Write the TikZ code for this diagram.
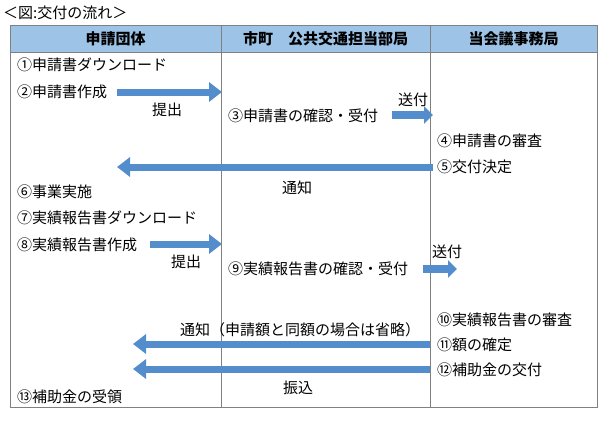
\documentclass[tikz,border=0pt]{standalone}
\usepackage{fontspec}
\setmainfont{Noto Sans CJK JP}
\usepackage{tikz}
\usetikzlibrary{arrows.meta,positioning}
\usepackage{xcolor}
\definecolor{hdblue}{RGB}{157,195,230}
\definecolor{flowblue}{RGB}{84,141,204}
\definecolor{rulegray}{RGB}{128,128,128}
\tikzstyle{item} = [anchor=west, inner sep=0pt]
\tikzstyle{note} = [inner sep=0pt]
\tikzstyle{bigarrow} = [line width=7pt, flowblue, -{Triangle[width=19pt,length=13pt]}]
\tikzstyle{smallarrow} = [line width=8pt, flowblue, -{Triangle[width=17pt,length=9pt]}]

\begin{document}
\begin{tikzpicture}[x=1pt, y=-1pt, font=\fontsize{15pt}{18pt}\selectfont]
\useasboundingbox (0,0) rectangle (600,434);
% Title
\node[item] (title) at (3,13) {＜図:交付の流れ＞};

% Table frame with header row
\draw[rulegray, fill=hdblue] (10,25) rectangle (597,52);
\draw[rulegray] (10,25) rectangle (597,407);
\draw[rulegray] (221,25) -- (221,407);
\draw[rulegray] (430,25) -- (430,407);
\node[note, font=\fontsize{15pt}{18pt}\selectfont\bfseries] (hd1) at (115.5,38.5) {申請団体};
\node[note, font=\fontsize{15pt}{18pt}\selectfont\bfseries] (hd2) at (325.5,38.5) {市町　公共交通担当部局};
\node[note, font=\fontsize{15pt}{18pt}\selectfont\bfseries] (hd3) at (513.5,38.5) {当会議事務局};

% Application steps
\node[item] (t1) at (17,65) {①申請書ダウンロード};
\node[item] (t2) at (17,92) {②申請書作成};
\node[note] (sub1) at (167,110) {提出};
\node[item] (t3) at (228,116) {③申請書の確認・受付};
\node[note] (snd1) at (413,100) {送付};
\node[item] (t4) at (437,141) {④申請書の審査};
\node[item] (t5) at (437,167) {⑤交付決定};
\node[note] (ntc1) at (297,188) {通知};

% Report steps
\node[item] (t6) at (17,192) {⑥事業実施};
\node[item] (t7) at (17,218) {⑦実績報告書ダウンロード};
\node[item] (t8) at (17,245) {⑧実績報告書作成};
\node[note] (sub2) at (186,262) {提出};
\node[item] (t9) at (228,269) {⑨実績報告書の確認・受付};
\node[note] (snd2) at (447,252) {送付};
\node[item] (t10) at (437,320) {⑩実績報告書の審査};
\node[note] (ntc2) at (300,330) {通知（申請額と同額の場合は省略）};
\node[item] (t11) at (437,345) {⑪額の確定};
\node[item] (t12) at (437,370) {⑫補助金の交付};
\node[note] (pay) at (298,388) {振込};
\node[item] (t13) at (17,397) {⑬補助金の受領};

% Arrow tips
\coordinate (e1) at (222,92);
\coordinate (e2) at (433,115);
\coordinate (e3) at (117,167);
\coordinate (e4) at (222,244);
\coordinate (e5) at (457,269);
\coordinate (e6) at (133,344);
\coordinate (e7) at (133,369);

\draw[bigarrow] ([xshift=10pt]t2.east) -- (e1);
\draw[smallarrow] ([xshift=14pt]t3.east |- e2) -- (e2);
\draw[bigarrow] ([xshift=-4pt]t5.west) -- (e3);
\draw[bigarrow] ([xshift=13pt]t8.east |- e4) -- (e4);
\draw[smallarrow] ([xshift=15pt]t9.east) -- (e5);
\draw[bigarrow] ([xshift=-7pt]t11.west |- e6) -- (e6);
\draw[bigarrow] ([xshift=-7pt]t12.west |- e7) -- (e7);
\end{tikzpicture}
\end{document}
